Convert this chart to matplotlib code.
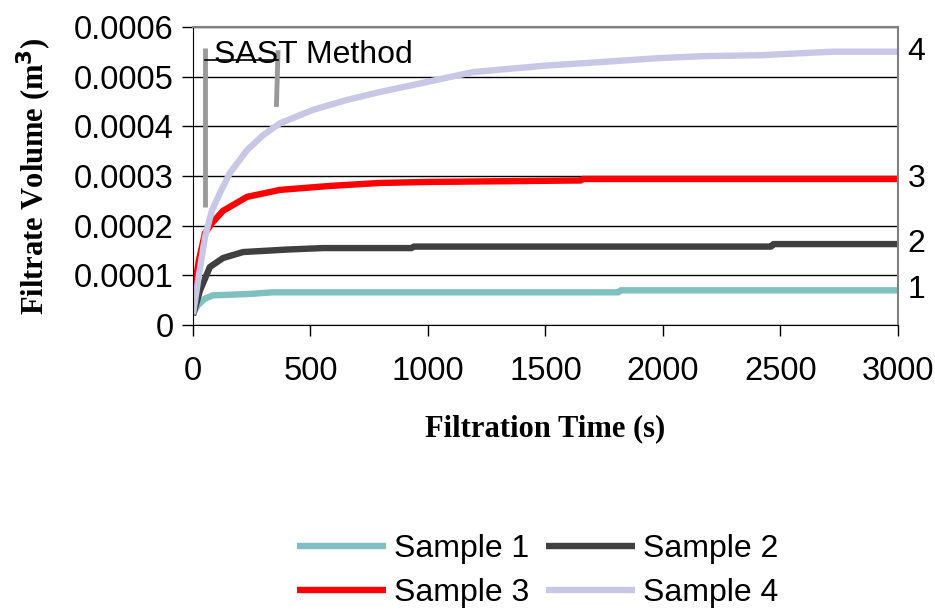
import matplotlib
matplotlib.use('Agg')
import matplotlib.pyplot as plt

# values
t1 = [0, 20, 50, 85, 150, 250, 340, 1000, 1810, 1820, 3000]
v1 = [0.000022, 0.00004, 0.000053, 0.00006, 0.000061, 0.000063, 0.000066,
      0.000066, 0.000066, 0.00007, 0.00007]

t2 = [0, 30, 72, 128, 213, 400, 553, 750, 930, 940, 2460, 2470, 3000]
v2 = [0.00002, 0.00007, 0.000117, 0.000135, 0.000147, 0.000152, 0.000155,
      0.000155, 0.000155, 0.000158, 0.000158, 0.000163, 0.000163]

t3 = [0, 25, 51, 80, 128, 230, 370, 583, 796, 1000, 1650, 1660, 3000]
v3 = [0.000055, 0.00013, 0.000185, 0.000205, 0.00023, 0.000258, 0.000272,
      0.00028, 0.000286, 0.000288, 0.000291, 0.000294, 0.000294]

t4 = [0, 25, 51, 80, 115, 157, 230, 298, 370, 511, 655, 796, 936, 1191,
      1500, 1732, 1979, 2170, 2421, 2719, 3000]
v4 = [0.000022, 0.0001, 0.000177, 0.00023, 0.000266, 0.000306, 0.000352,
      0.000382, 0.000406, 0.000433, 0.000453, 0.000469, 0.000483, 0.000509,
      0.000522, 0.000529, 0.000537, 0.000541, 0.000543, 0.00055, 0.00055]

labels = ['Sample 1', 'Sample 2', 'Sample 3', 'Sample 4']
end_labels = ['1', '2', '3', '4']
colors = ['#80C0C0', '#404040', '#FF0000', '#C8C8E6']

plt.rcParams['font.family'] = ['Liberation Sans', 'DejaVu Sans']

fig = plt.figure(figsize=(9.35, 6.1), dpi=100)
ax = fig.add_axes([0.2064, 0.467, 0.754, 0.489])

series = [(t1, v1), (t2, v2), (t3, v3), (t4, v4)]
lines = []
for (t, v), lab, c in zip(series, labels, colors):
    ln, = ax.plot(t, v, color=c, lw=4.6, label=lab, solid_capstyle='butt')
    lines.append(ln)

# curve numbers at the right end
for (t, v), txt in zip(series, end_labels):
    ax.annotate(txt, (t[-1], v[-1]), xytext=(7, 0), textcoords='offset points',
                va='center', ha='left', fontsize=23, annotation_clip=False)

# SAST Method marker
ax.plot([51, 51], [0.000558, 0.000238], color='#999999', lw=3.5, solid_capstyle='butt')
ax.plot([362, 355], [0.000553, 0.000439], color='#999999', lw=3.5, solid_capstyle='butt')
ax.plot([51, 362], [0.000533, 0.000533], color='black', lw=1.2)
ax.text(88, 0.000543, 'SAST Method', fontsize=23, va='center', ha='left')

ax.set_xlim(0, 3000)
ax.set_ylim(0, 0.0006)
ax.set_xticks(range(0, 3001, 500))
ax.set_yticks([0, 0.0001, 0.0002, 0.0003, 0.0004, 0.0005, 0.0006])
ax.set_yticklabels(['0', '0.0001', '0.0002', '0.0003', '0.0004', '0.0005', '0.0006'])
ax.tick_params(labelsize=23.5, direction='out', length=8, width=1)
ax.tick_params(axis='x', pad=14)
ax.tick_params(axis='y', pad=6)
ax.grid(axis='y', color='black', lw=1)
ax.set_axisbelow(True)
ax.spines['top'].set_color('#808080')
ax.spines['right'].set_color('#808080')
ax.spines['top'].set_linewidth(1.5)
ax.spines['right'].set_linewidth(1.5)

ax.set_xlabel('Filtration Time (s)', fontsize=22, fontweight='bold',
              family='Liberation Serif', labelpad=20)
ax.set_ylabel('Filtrate Volume (m$^\\mathbf{3}$)', fontsize=22, fontweight='bold',
              family='Liberation Serif', labelpad=14)

order = [0, 2, 1, 3]
leg = fig.legend([lines[i] for i in order], [labels[i] for i in order],
                 loc='center', bbox_to_anchor=(0.575, 0.064), ncol=2, frameon=False,
                 fontsize=23, handlelength=2.8, handletextpad=0.25, columnspacing=0.5,
                 labelspacing=0.45)

fig.savefig('out.png', dpi=100)
